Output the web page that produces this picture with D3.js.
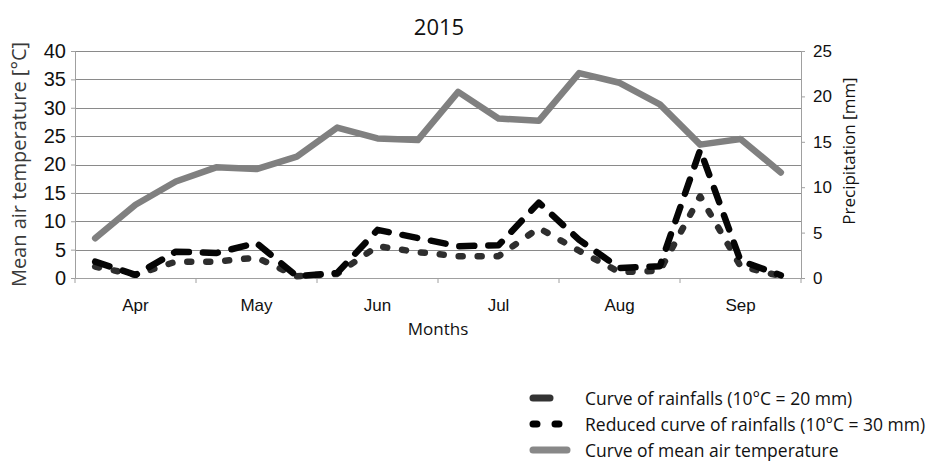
<!DOCTYPE html>
<html>
<head>
<meta charset="utf-8">
<script src="https://cdn.jsdelivr.net/npm/d3@7"></script>
<style>
  body { margin: 0; background: #fff; }
  svg { display: block; font-family: "Open Sans", "Noto Sans", sans-serif; }
</style>
</head>
<body>
<div id="chart"></div>
<script>
////////////////////////////////////////////////////////////////////////
// data -- three values per month (decades of the month)
////////////////////////////////////////////////////////////////////////
var months = ["Apr", "May", "Jun", "Jul", "Aug", "Sep"];
var tempTicks = [0, 5, 10, 15, 20, 25, 30, 35, 40];
var precipTicks = [0, 5, 10, 15, 20, 25];

//mean air temperature [°C], left axis
var temperature = [7.0, 12.9, 17.0, 19.5, 19.2, 21.4,
                   26.5, 24.6, 24.3, 32.8, 28.1, 27.7,
                   36.1, 34.4, 30.6, 23.5, 24.5, 18.6];

//curve of rainfalls (10°C = 20 mm), right axis
var rainfall = [1.8, 0.35, 2.9, 2.75, 3.85, 0.2,
                0.55, 5.3, 4.4, 3.5, 3.6, 8.3,
                4.2, 1.1, 1.3, 14.1, 1.9, 0.3];

//reduced curve of rainfalls (10°C = 30 mm), right axis
var reducedRainfall = [1.25, 0.35, 1.8, 1.8, 2.25, 0.2,
                       0.45, 3.5, 2.85, 2.4, 2.4, 5.5,
                       3.0, 0.65, 0.8, 9.0, 1.3, 0.2];

var legendLabels = ["Curve of rainfalls (10°C = 20 mm)",
                    "Reduced curve of rainfalls (10°C = 30 mm)",
                    "Curve of mean air temperature"];


////////////////////////////////////////////////////////////////////////
//
// Build the whole chart
//
////////////////////////////////////////////////////////////////////////
function drawChart()
  {
  var width = 938;
  var height = 462;
  var plot = {left: 75, right: 801, top: 51, bottom: 278};

  var svg = d3.select("#chart")
    .append("svg")
    .attr("width", width)
    .attr("height", height);

  //scales
  var xMonth = d3.scaleBand().domain(months).range([plot.left, plot.right]);
  var xDecade = d3.scaleLinear().domain([0, months.length * 3]).range([plot.left, plot.right]);
  var yTemp = d3.scaleLinear().domain([0, 40]).range([plot.bottom, plot.top]);
  var yPrecip = d3.scaleLinear().domain([0, 25]).range([plot.bottom, plot.top]);

  //horizontal grid lines
  svg.append("g")
    .selectAll("line")
    .data(tempTicks.slice(1))
    .enter()
    .append("line")
    .attr("x1", plot.left)
    .attr("x2", plot.right)
    .attr("y1", function(d) { return Math.round(yTemp(d)) + 0.5; })
    .attr("y2", function(d) { return Math.round(yTemp(d)) + 0.5; })
    .attr("stroke", "#8a8a8a")
    .attr("stroke-width", 1);

  //left axis
  var leftAxis = svg.append("g")
    .attr("transform", "translate(" + plot.left + ",0)")
    .call(d3.axisLeft(yTemp).tickValues(tempTicks).tickSize(4).tickPadding(5));
  leftAxis.select(".domain").attr("stroke", "#a0a0a0");
  leftAxis.selectAll(".tick line").attr("stroke", "#a0a0a0");
  leftAxis.selectAll("text")
    .attr("fill", "#111")
    .style("font-size", "20px");

  //right axis
  var rightAxis = svg.append("g")
    .attr("transform", "translate(" + plot.right + ",0)")
    .call(d3.axisRight(yPrecip).tickValues(precipTicks).tickSize(4).tickPadding(8));
  rightAxis.select(".domain").attr("stroke", "#a0a0a0");
  rightAxis.selectAll(".tick line").attr("stroke", "#a0a0a0");
  rightAxis.selectAll("text")
    .attr("fill", "#111")
    .style("font-size", "17px");

  //bottom axis, ticks on month boundaries
  var bottomAxis = svg.append("g")
    .attr("transform", "translate(0," + plot.bottom + ")")
    .call(d3.axisBottom(xMonth).tickSize(0).tickPadding(21));
  bottomAxis.select(".domain").attr("stroke", "#a0a0a0");
  bottomAxis.selectAll("text")
    .attr("fill", "#111")
    .style("font-size", "17px");

  svg.append("g")
    .selectAll("line")
    .data(months.concat(["end"]))
    .enter()
    .append("line")
    .attr("x1", function(d, i) { return plot.left + i * xMonth.bandwidth(); })
    .attr("x2", function(d, i) { return plot.left + i * xMonth.bandwidth(); })
    .attr("y1", plot.bottom)
    .attr("y2", plot.bottom + 5)
    .attr("stroke", "#a0a0a0");

  //axis titles
  svg.append("text")
    .attr("transform", "translate(26," + (plot.top + plot.bottom) / 2 + ") rotate(-90)")
    .attr("text-anchor", "middle")
    .attr("fill", "#3a3a3a")
    .style("font-size", "20px")
    .text("Mean air temperature [°C]");

  svg.append("text")
    .attr("transform", "translate(855,151) rotate(-90)")
    .attr("text-anchor", "middle")
    .attr("fill", "#111")
    .style("font-size", "17px")
    .text("Precipitation [mm]");

  svg.append("text")
    .attr("x", (plot.left + plot.right) / 2)
    .attr("y", 335)
    .attr("text-anchor", "middle")
    .attr("fill", "#111")
    .style("font-size", "17px")
    .text("Months");

  svg.append("text")
    .attr("x", 439)
    .attr("y", 35)
    .attr("text-anchor", "middle")
    .attr("fill", "#111")
    .style("font-size", "22px")
    .text("2015");

  //series
  var tempLine = d3.line()
    .x(function(d, i) { return xDecade(i + 0.5); })
    .y(function(d) { return yTemp(d); });
  var precipLine = d3.line()
    .x(function(d, i) { return xDecade(i + 0.5); })
    .y(function(d) { return yPrecip(d); });

  svg.append("path")
    .datum(reducedRainfall)
    .attr("d", precipLine)
    .attr("fill", "none")
    .attr("stroke", "#2e2e2e")
    .attr("stroke-width", 6.5)
    .attr("stroke-linecap", "round")
    .attr("stroke-linejoin", "round")
    .attr("stroke-dasharray", "4 15");

  svg.append("path")
    .datum(rainfall)
    .attr("d", precipLine)
    .attr("fill", "none")
    .attr("stroke", "#050505")
    .attr("stroke-width", 6.5)
    .attr("stroke-linecap", "round")
    .attr("stroke-linejoin", "round")
    .attr("stroke-dasharray", "15 14");

  svg.append("path")
    .datum(temperature)
    .attr("d", tempLine)
    .attr("fill", "none")
    .attr("stroke", "#808080")
    .attr("stroke-width", 6.5)
    .attr("stroke-linecap", "round")
    .attr("stroke-linejoin", "round");

  drawLegend(svg);

  return;
  }


////////////////////////////////////////////////////////////////////////
//
// Legend in the bottom right corner
//
////////////////////////////////////////////////////////////////////////
function drawLegend(svg)
  {
  var styles = [
    {color: "#333", dash: null, x2: 550},
    {color: "#000", dash: "4 18", x2: 560},
    {color: "#888", dash: null, x2: 567}
  ];
  var rowY = [398, 424, 450];

  var items = svg.append("g")
    .selectAll("g")
    .data(legendLabels)
    .enter()
    .append("g")
    .attr("transform", function(d, i) { return "translate(0," + rowY[i] + ")"; });

  items.append("line")
    .attr("x1", 533)
    .attr("x2", function(d, i) { return styles[i].x2; })
    .attr("stroke", function(d, i) { return styles[i].color; })
    .attr("stroke-width", 7)
    .attr("stroke-linecap", "round")
    .attr("stroke-dasharray", function(d, i) { return styles[i].dash; });

  items.append("text")
    .attr("x", 585)
    .attr("y", 7)
    .attr("fill", "#111")
    .style("font-size", "17.5px")
    .text(function(d) { return d; });

  return;
  }

drawChart();
</script>
</body>
</html>
